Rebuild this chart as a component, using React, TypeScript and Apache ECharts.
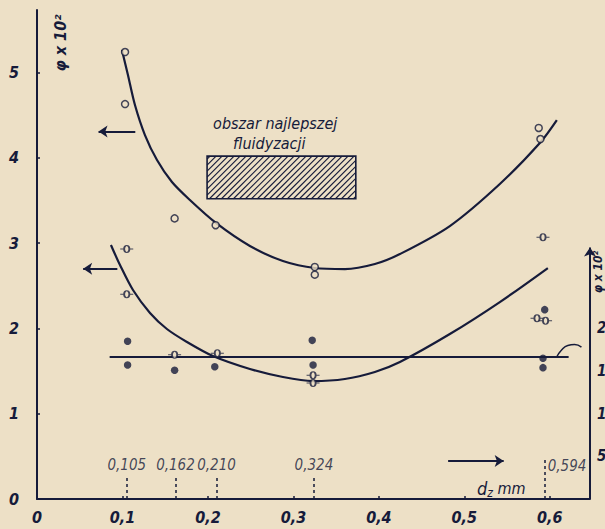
import React, { useEffect, useRef } from "react";
import * as echarts from "echarts";

// d_z [mm] vs φ×10²
const upperCurve: [number, number][] = [
  [0.0994, 5.264], [0.1064, 4.971], [0.1146, 4.619], [0.1263, 4.267], [0.1404, 3.974],
  [0.1579, 3.716], [0.1789, 3.505], [0.2094, 3.236], [0.2491, 2.966], [0.2877, 2.79],
  [0.3251, 2.708], [0.3602, 2.696], [0.3953, 2.755], [0.4246, 2.872], [0.483, 3.2],
  [0.5415, 3.693], [0.5883, 4.174], [0.6082, 4.443],
];
const lowerCurve: [number, number][] = [
  [0.0865, 2.978], [0.0971, 2.743], [0.1123, 2.45], [0.1322, 2.181], [0.152, 1.993],
  [0.1754, 1.841], [0.2058, 1.676], [0.2491, 1.524], [0.2877, 1.43], [0.3228, 1.383],
  [0.3602, 1.407], [0.3953, 1.489], [0.4246, 1.606], [0.483, 1.934], [0.5415, 2.309],
  [0.5977, 2.708],
];
const flatLine: [number, number][] = [[0.085, 1.665], [0.622, 1.665]];
const hookLine: [number, number][] = [[0.608, 1.665], [0.614, 1.75], [0.621, 1.8], [0.629, 1.81], [0.637, 1.78]];

const openCircles: [number, number][] = [
  [0.103, 5.24], [0.103, 4.63], [0.161, 3.29], [0.209, 3.21],
  [0.325, 2.72], [0.325, 2.63], [0.587, 4.35], [0.589, 4.22],
];
const barredCircles: [number, number][] = [
  [0.105, 2.93], [0.105, 2.4], [0.161, 1.69], [0.211, 1.71],
  [0.323, 1.45], [0.323, 1.36], [0.592, 3.07], [0.585, 2.12], [0.595, 2.09],
];
const filledDots: [number, number][] = [
  [0.106, 1.85], [0.106, 1.57], [0.161, 1.51], [0.208, 1.55],
  [0.322, 1.86], [0.323, 1.57], [0.594, 2.22], [0.592, 1.65], [0.592, 1.54],
];

const fractionMarks = [0.105, 0.162, 0.21, 0.324];
const fractionMarkLabels = ["0,105", "0,162", "0,210", "0,324"];
const lastFraction = 0.594;
const lastFractionLabel = "0,594";

// best-fluidisation area [dFrom, dTo, vFrom, vTo]
const bestArea: [number, number, number, number] = [0.199, 0.373, 3.52, 4.02];
const rightAxisLabels = [5, 10, 15, 20];

const INK = "#161b3a";
const PAPER = "#ede0c6";
const FONT = "'DejaVu Sans Condensed', 'Liberation Sans Narrow', 'DejaVu Sans', sans-serif";

export default function App() {
  const ref = useRef<HTMLDivElement>(null);
  useEffect(() => {
    document.body.style.margin = "0";
    document.body.style.background = PAPER;
    const chart = echarts.init(ref.current!, null, { renderer: "svg" });
    const arrowLine = (a: [number, number], b: [number, number]) => [
      { coord: a, symbol: "none" },
      { coord: b, symbol: "arrow" },
    ];
    const option: any = {
      animation: false,
      backgroundColor: PAPER,
      grid: { left: 37, right: 15, top: 10, bottom: 30, outerBoundsMode: "none", containLabel: false },
      xAxis: {
        type: "value",
        min: 0,
        max: 0.647,
        interval: 0.1,
        axisLine: { lineStyle: { color: INK, width: 2 } },
        axisTick: { show: true, inside: true, length: 3, lineStyle: { color: INK, width: 1.5 } },
        splitLine: { show: false },
        axisLabel: {
          color: INK,
          fontFamily: FONT,
          fontStyle: "italic",
          fontWeight: "bold",
          fontSize: 16,
          margin: 10,
          showMaxLabel: false,
          formatter: (v: number) => (v === 0 ? "0" : v.toFixed(1).replace(".", ",")),
        },
      },
      yAxis: [
        {
          type: "value",
          min: 0,
          max: 5.733,
          interval: 1,
          axisLine: { show: true, lineStyle: { color: INK, width: 2 } },
          axisTick: { show: true, inside: true, length: 3, lineStyle: { color: INK, width: 1.5 } },
          splitLine: { show: false },
          axisLabel: {
            color: INK,
            fontFamily: FONT,
            fontStyle: "italic",
            fontWeight: "bold",
            fontSize: 16,
            margin: 18,
            showMaxLabel: false,
          },
        },
        {
          type: "value",
          position: "right",
          min: 0,
          max: 57.33,
          interval: 5,
          axisLine: { show: false },
          axisTick: { show: false },
          splitLine: { show: false },
          axisLabel: {
            color: INK,
            fontFamily: FONT,
            fontStyle: "italic",
            fontWeight: "bold",
            fontSize: 15,
            margin: 7,
            formatter: (v: number) => (rightAxisLabels.indexOf(v) >= 0 ? String(v) : ""),
          },
        },
      ],
      graphic: [
        {
          type: "text",
          x: 60,
          y: 43,
          rotation: Math.PI / 2,
          style: {
            text: "φ x 10²",
            fill: INK,
            font: `italic bold 16px ${FONT}`,
            align: "center",
            verticalAlign: "middle",
          },
        },
        {
          type: "text",
          x: 598,
          y: 272,
          rotation: Math.PI / 2,
          style: {
            text: "φ x 10²",
            fill: INK,
            font: `italic bold 12px ${FONT}`,
            align: "center",
            verticalAlign: "middle",
          },
        },
        {
          type: "text",
          x: 477,
          y: 478,
          style: {
            text: "{d|d}{z|z}{m| mm}",
            rich: {
              d: { fill: INK, fontSize: 18, fontStyle: "italic", fontFamily: FONT },
              z: { fill: INK, fontSize: 12, fontStyle: "italic", fontFamily: FONT, padding: [9, 0, 0, 0] },
              m: { fill: INK, fontSize: 16, fontStyle: "italic", fontFamily: FONT },
            },
          },
        },
      ],
      series: [
        {
          type: "line",
          data: upperCurve,
          smooth: 0.3,
          symbol: "none",
          lineStyle: { color: INK, width: 2.2 },
          z: 3,
          markLine: {
            silent: true,
            symbolSize: 9,
            label: { show: false },
            lineStyle: { color: INK, width: 2, type: "solid" },
            data: [
              arrowLine([0.115, 4.31], [0.072, 4.31]),
              arrowLine([0.094, 2.7], [0.054, 2.7]),
              arrowLine([0.481, 0.445], [0.546, 0.445]),
              arrowLine([0.647, 0], [0.647, 2.95]),
            ],
          },
        },
        {
          type: "line",
          data: lowerCurve,
          smooth: 0.3,
          symbol: "none",
          lineStyle: { color: INK, width: 2.2 },
          z: 3,
          markLine: {
            silent: true,
            symbol: "none",
            label: { show: false },
            lineStyle: { color: INK, width: 1.5, type: [3, 3] },
            data: [
              ...fractionMarks.map((d) => [{ coord: [d, 0] }, { coord: [d, 0.27] }]),
              [{ coord: [lastFraction, 0] }, { coord: [lastFraction, 0.48] }],
            ],
          },
        },
        {
          type: "line",
          data: flatLine,
          symbol: "none",
          lineStyle: { color: INK, width: 2.2 },
          z: 3,
        },
        {
          type: "line",
          data: hookLine,
          smooth: 0.5,
          symbol: "none",
          lineStyle: { color: INK, width: 1.5 },
          z: 3,
        },
        {
          type: "scatter",
          data: openCircles,
          symbol: "circle",
          symbolSize: 7,
          itemStyle: { color: PAPER, borderColor: INK, borderWidth: 1.5 },
          z: 5,
        },
        {
          type: "scatter",
          data: barredCircles,
          symbol: "path://M0 5H3M7 5H10M3 5A2 2 0 1 0 7 5A2 2 0 1 0 3 5Z",
          symbolSize: [13, 7],
          itemStyle: { color: PAPER, borderColor: INK, borderWidth: 1.4 },
          z: 5,
        },
        {
          type: "scatter",
          data: filledDots,
          symbol: "circle",
          symbolSize: 7.5,
          itemStyle: { color: INK },
          z: 5,
        },
        {
          type: "scatter",
          data: fractionMarks.map((d, i) => ({ value: [d, 0.27], label: { formatter: fractionMarkLabels[i] } })),
          symbolSize: 0,
          label: {
            show: true,
            position: "top",
            distance: 3,
            color: INK,
            fontFamily: FONT,
            fontStyle: "italic",
            fontSize: 15,
          },
          silent: true,
        },
        {
          type: "scatter",
          data: [{ value: [lastFraction, 0.39], label: { formatter: lastFractionLabel } }],
          symbolSize: 0,
          label: {
            show: true,
            position: "right",
            distance: 3,
            color: INK,
            fontFamily: FONT,
            fontStyle: "italic",
            fontSize: 15,
          },
          silent: true,
        },
        {
          type: "custom",
          data: [bestArea],
          encode: { x: [0, 1], y: [2, 3] },
          z: 4,
          silent: true,
          renderItem: (params: any, api: any) => {
            const pTL = api.coord([api.value(0), api.value(3)]);
            const pBR = api.coord([api.value(1), api.value(2)]);
            const x0 = pTL[0], y0 = pTL[1], x1 = pBR[0], y1 = pBR[1];
            const children: any[] = [];
            const step = 6;
            for (let c = x0 + y0 + step / 2; c < x1 + y1; c += step) {
              const xa = Math.max(x0, c - y1);
              const xb = Math.min(x1, c - y0);
              if (xb > xa) {
                children.push({
                  type: "line",
                  shape: { x1: xa, y1: c - xa, x2: xb, y2: c - xb },
                  style: { stroke: INK, lineWidth: 1.1 },
                });
              }
            }
            children.push({
              type: "rect",
              shape: { x: x0, y: y0, width: x1 - x0, height: y1 - y0 },
              style: { fill: "none", stroke: INK, lineWidth: 1.6 },
            });
            children.push({
              type: "text",
              style: {
                x: x0 + 6,
                y: y0 - 33,
                text: "obszar najlepszej",
                fill: INK,
                font: `italic 500 16px ${FONT}`,
                verticalAlign: "middle",
              },
            });
            children.push({
              type: "text",
              style: {
                x: x0 + 26,
                y: y0 - 13,
                text: "fluidyzacji",
                fill: INK,
                font: `italic 500 16px ${FONT}`,
                verticalAlign: "middle",
              },
            });
            return { type: "group", children };
          },
        },
      ],
    };
    chart.setOption(option);
    return () => chart.dispose();
  }, []);
  return <div ref={ref} style={{ width: 605, height: 529 }} />;
}
